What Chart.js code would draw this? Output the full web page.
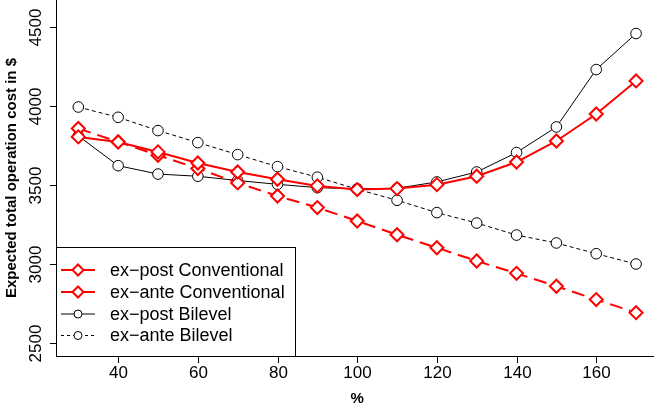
<!DOCTYPE html>
<html lang="en">
<head>
  <meta charset="UTF-8" />
  <title>Expected total operation cost</title>
  <script src="https://cdn.jsdelivr.net/npm/chart.js"></script>
  <style>
    html, body { margin: 0; padding: 0; background: #fff; }
    canvas { display: block; }
  </style>
</head>
<body>
  <canvas id="costChart" width="654" height="409"></canvas>

  <script>
    // values
    const percents = [30, 40, 50, 60, 70, 80, 90, 100, 110, 120, 130, 140, 150, 160, 170];
    const expostConventional = [3806, 3774, 3711, 3641, 3584, 3538, 3496, 3473, 3479, 3504, 3557, 3647, 3780, 3951, 4160];
    const exanteConventional = [3859, 3774, 3690, 3606, 3515, 3432, 3359, 3274, 3187, 3105, 3021, 2943, 2861, 2777, 2694];
    const expostBilevel = [3812, 3624, 3571, 3557, 3530, 3506, 3485, 3477, 3481, 3521, 3584, 3707, 3869, 4232, 4460];
    const exanteBilevel = [3995, 3930, 3846, 3770, 3694, 3618, 3551, 3475, 3405, 3327, 3261, 3185, 3135, 3067, 3002];

    const xTicks = [40, 60, 80, 100, 120, 140, 160];
    const yTicks = [2500, 3000, 3500, 4000, 4500];
    const seriesNames = ["ex\u2212post Conventional", "ex\u2212ante Conventional", "ex\u2212post Bilevel", "ex\u2212ante Bilevel"];

    const FONT = '"Liberation Sans", Arial, Helvetica, sans-serif';
    const RED = "#ff0000";

    const toPoints = arr => arr.map((v, i) => ({ x: percents[i], y: v }));

    // axes, ticks, titles and legend drawn R-style
    const rAxes = {
      id: "rAxes",
      afterDraw(chart) {
        const ctx = chart.ctx;
        const area = chart.chartArea;
        const xs = chart.scales.x, ys = chart.scales.y;
        ctx.save();
        ctx.strokeStyle = "#000";
        ctx.fillStyle = "#000";
        ctx.lineWidth = 1;

        // L-shaped box
        ctx.beginPath();
        ctx.moveTo(area.left - 0.5, area.top);
        ctx.lineTo(area.left - 0.5, area.bottom + 0.5);
        ctx.lineTo(area.right, area.bottom + 0.5);
        ctx.stroke();

        // x ticks + labels
        ctx.font = "17px " + FONT;
        ctx.textAlign = "center";
        ctx.textBaseline = "middle";
        xTicks.forEach(t => {
          const px = Math.round(xs.getPixelForValue(t)) + 0.5;
          ctx.beginPath();
          ctx.moveTo(px, area.bottom);
          ctx.lineTo(px, area.bottom + 7);
          ctx.stroke();
          ctx.fillText(String(t), px, area.bottom + 17);
        });

        // y ticks + rotated labels
        yTicks.forEach(t => {
          const py = Math.round(ys.getPixelForValue(t)) + 0.5;
          ctx.beginPath();
          ctx.moveTo(area.left - 7, py);
          ctx.lineTo(area.left, py);
          ctx.stroke();
          ctx.save();
          ctx.translate(area.left - 21, py);
          ctx.rotate(-Math.PI / 2);
          ctx.fillText(String(t), 0, 0);
          ctx.restore();
        });

        // axis titles
        ctx.font = "bold 15px " + FONT;
        ctx.fillText("%", xs.getPixelForValue(100), 399);
        ctx.save();
        ctx.translate(12, (area.top + area.bottom) / 2);
        ctx.rotate(-Math.PI / 2);
        ctx.fillText("Expected total operation cost in $", 0, 0);
        ctx.restore();

        // legend box
        const lx = area.left - 0.5, ly = 247.5, lw = 239, lh = area.bottom + 0.5 - 247.5;
        ctx.fillStyle = "#fff";
        ctx.fillRect(lx, ly, lw, lh);
        ctx.strokeRect(lx, ly, lw, lh);

        const rows = [270, 292, 314, 335.5];
        const styles = [
          { color: RED, width: 2, dash: [], shape: "diamond" },
          { color: RED, width: 2, dash: [], shape: "diamond" },
          { color: "#000", width: 1, dash: [], shape: "circle" },
          { color: "#000", width: 1, dash: [3, 3], shape: "circle" }
        ];
        ctx.font = "18px " + FONT;
        ctx.textAlign = "left";
        rows.forEach((y, i) => {
          const s = styles[i];
          ctx.strokeStyle = s.color;
          ctx.lineWidth = s.width;
          ctx.setLineDash(s.dash);
          ctx.beginPath();
          ctx.moveTo(61, y);
          ctx.lineTo(95, y);
          ctx.stroke();
          ctx.setLineDash([]);
          ctx.fillStyle = "#fff";
          ctx.beginPath();
          if (s.shape === "diamond") {
            ctx.moveTo(78 - 5.5, y);
            ctx.lineTo(78, y - 5.5);
            ctx.lineTo(78 + 5.5, y);
            ctx.lineTo(78, y + 5.5);
            ctx.closePath();
          } else {
            ctx.arc(78, y, 4, 0, Math.PI * 2);
          }
          ctx.fill();
          ctx.stroke();
          ctx.fillStyle = "#000";
          ctx.fillText(seriesNames[i], 110, y + 1);
        });
        ctx.restore();
      }
    };

    new Chart(document.getElementById("costChart"), {
      type: "line",
      data: {
        datasets: [
          {
            label: seriesNames[0],
            data: toPoints(expostConventional),
            borderColor: RED,
            borderWidth: 2,
            pointStyle: "rectRot",
            pointRadius: 6.5,
            pointBorderWidth: 2,
            pointBorderColor: RED,
            pointBackgroundColor: "#fff"
          },
          {
            label: seriesNames[1],
            data: toPoints(exanteConventional),
            borderColor: RED,
            borderWidth: 2,
            borderDash: [13, 7],
            pointStyle: "rectRot",
            pointRadius: 6.5,
            pointBorderWidth: 2,
            pointBorderColor: RED,
            pointBackgroundColor: "#fff"
          },
          {
            label: seriesNames[2],
            data: toPoints(expostBilevel),
            borderColor: "#000",
            borderWidth: 1,
            pointStyle: "circle",
            pointRadius: 5.3,
            pointBorderWidth: 1,
            pointBorderColor: "#000",
            pointBackgroundColor: "#fff"
          },
          {
            label: seriesNames[3],
            data: toPoints(exanteBilevel),
            borderColor: "#000",
            borderWidth: 1,
            borderDash: [4, 3],
            pointStyle: "circle",
            pointRadius: 5.3,
            pointBorderWidth: 1,
            pointBorderColor: "#000",
            pointBackgroundColor: "#fff"
          }
        ]
      },
      options: {
        responsive: false,
        devicePixelRatio: 1,
        animation: false,
        layout: { autoPadding: false, padding: { left: 57, right: 0, top: 0, bottom: 53 } },
        plugins: {
          legend: { display: false },
          tooltip: { enabled: false }
        },
        elements: { line: { tension: 0 } },
        scales: {
          x: { type: "linear", display: false, min: 24.65, max: 174.5 },
          y: { type: "linear", display: false, min: 2420, max: 4672 }
        }
      },
      plugins: [rAxes]
    });
  </script>
</body>
</html>
